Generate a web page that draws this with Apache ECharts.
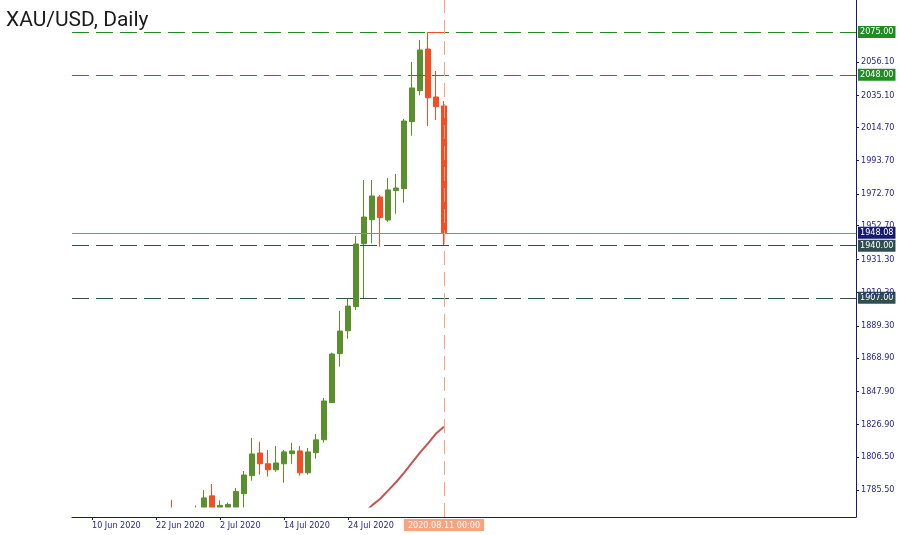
<!DOCTYPE html>
<html><head><meta charset="utf-8">
<script src="https://cdn.jsdelivr.net/npm/echarts@6/dist/echarts.min.js"></script>
<style>html,body{margin:0;padding:0;background:#fff}#c{width:900px;height:535px}</style>
</head><body><div id="c"></div>
<script>
// ---- data (XAU/USD daily) ----
const dates = ['2020.06.08','2020.06.09','2020.06.10','2020.06.11','2020.06.12','2020.06.15','2020.06.16','2020.06.17','2020.06.18','2020.06.19','2020.06.22','2020.06.23','2020.06.24','2020.06.25','2020.06.26','2020.06.29','2020.06.30',
 '2020.07.01','2020.07.02','2020.07.03','2020.07.06','2020.07.07','2020.07.08','2020.07.09','2020.07.10','2020.07.13','2020.07.14','2020.07.15','2020.07.16','2020.07.17','2020.07.20','2020.07.21','2020.07.22','2020.07.23','2020.07.24','2020.07.27','2020.07.28','2020.07.29','2020.07.30','2020.07.31',
 '2020.08.03','2020.08.04','2020.08.05','2020.08.06','2020.08.07','2020.08.10','2020.08.11'];
const opens = [1685,1697,1715,1737,1728,1730,1725,1726,1727,1722,1743,1754,1768,1761,1764,1771,1772,
 1781.8,1770,1774.5,1774.5,1783.2,1794.6,1808.9,1802.1,1798.3,1802.1,1808.5,1810.2,1796.4,1809.1,1817.3,1840.7,1871.7,1886.2,1901.4,1941.2,1956.4,1970.8,1956.2,
 1974.8,1976.0,2018.4,2038.0,2064.3,2034.0,2028.3];
const highs = [1700,1723,1739,1744,1744,1732,1735,1736,1736,1745,1755,1768,1779.3,1768,1772,1775.6,1785.5,
 1789.3,1779,1777.5,1786.8,1797.5,1818.4,1816.0,1810.8,1813.3,1810.8,1815.3,1813.3,1812.1,1820.9,1843.7,1872.3,1898.7,1906.9,1946.1,1981.5,1981.5,1972.0,1982.8,
 1985.3,2020.1,2056.1,2070.0,2075.0,2050.4,2031.4];
const lows = [1670,1692,1705,1717,1721,1704,1712,1718,1717,1720,1737,1750,1757,1753,1755,1760,1766,
 1757,1757,1771,1763,1771,1791.4,1795.2,1794.0,1797.1,1790.1,1802.1,1794.6,1795.2,1805.3,1815.5,1840.7,1863.5,1881.2,1899.3,1906.7,1941.5,1939.3,1955.1,
 1960.2,1967.1,2009.5,2035.0,2015.6,2019.4,1940.0];
const closes = [1697,1715,1737,1728,1730,1725,1726,1727,1722,1743,1754,1768,1761,1764,1771,1772,1780.5,
 1770,1775.8,1776.4,1784.5,1795.0,1808.3,1802.1,1798.3,1802.6,1809.6,1810.2,1796.4,1809.6,1817.2,1841.8,1871.5,1886.0,1901.8,1941.0,1958.1,1971.4,1957.7,1975.2,
 1976.4,2018.8,2039.7,2063.7,2033.5,2027.9,1948.08];
const maValues = [null,null,null,null,null,null,null,null,null,null,null,null,null,null,null,null,null,
 null,null,null,null,null,null,null,null,null,null,null,null,null,null,null,null,null,null,null,1771.0,1775.8,1779.8,1785.1,
 1790.4,1796.4,1802.8,1809.1,1815.0,1821.2,1825.5];
const yTicks = [2056.10,2035.10,2014.70,1993.70,1972.70,1952.70,1931.30,1910.30,1889.30,1868.90,1847.90,1826.90,1806.50,1785.50];
const xTickDates = ['2020.06.10','2020.06.22','2020.07.02','2020.07.14','2020.07.24'];
const xTickLabels = ['10 Jun 2020','22 Jun 2020','2 Jul 2020','14 Jul 2020','24 Jul 2020'];
const greenLevels = [2075.00, 2048.00];
const slateLevels = [1940.00, 1907.00];
const bidPrice = 1948.08;
const cursorDate = '2020.08.11';
const cursorLabel = '2020.08.11 00:00';
const highMarkFrom = '2020.08.07';
const highMarkPrice = 2075.00;
const titleText = 'XAU/USD, Daily';

// ---- layout ----
const W = 900, H = 535;
const GL = 72, GR = 44, GT = 0, GB_AXIS = 18, GB_DATA = 28;
const futureSlots = 51;
const cats = dates.concat(Array.from({length: futureSlots}, (_, i) => 'f' + i));
const candles = dates.map((d, i) => [opens[i], closes[i], lows[i], highs[i]]);

const AX = '#1b1b6b', TXT = '#26268a', FONT = 'DejaVu Sans Condensed', FS = 9;
const boxLabel = (txt, bg) => ({show:true, position:'end', distance:2, formatter: txt, color:'#fff',
  backgroundColor: bg, padding:[2,2,1,2], fontFamily: FONT, fontSize: FS});

const levelLines = [
  ...greenLevels.map(v => ({yAxis: v, lineStyle:{color:'#228b22', type:[17,7], width:1}, label: boxLabel(v.toFixed(2), '#228b22')})),
  {yAxis: bidPrice, lineStyle:{color:'#7f8c9c', type:'solid', width:1}, label: boxLabel(bidPrice.toFixed(2), '#191970')},
  ...slateLevels.map(v => ({yAxis: v, lineStyle:{color:'#2f4f4f', type:[17,7], width:1}, label: boxLabel(v.toFixed(2), '#2f4f4f')}))
];
const cursorLine = [
  {xAxis: cursorDate, lineStyle:{color:'#ffa07a', type:[14,7], width:1},
   label:{show:true, position:'start', distance:2, formatter: cursorLabel, color:'#fff', backgroundColor:'#f9a27f',
     padding:[2,4,1,4], fontFamily: FONT, fontSize: FS}}
];

const chart = echarts.init(document.getElementById('c'), null, {renderer:'canvas'});
chart.setOption({
  animation: false,
  backgroundColor: '#fff',
  title: {text: titleText, left: 1, top: 5, textStyle:{fontFamily:'Roboto', fontSize: 21, fontWeight:'normal', color:'#1c1c1c'}},
  grid: [{left:GL, right:GR, top:GT, bottom:GB_AXIS}, {left:GL, right:GR, top:GT, bottom:GB_DATA}],
  graphic: [{type:'rect', silent:true, z:5,
    shape:{x:GL, y:H - GB_DATA + 0.5, width:W - GL - GR - 0.5, height:GB_DATA}, style:{fill:'#fff'}}],
  xAxis: [
    {type:'category', gridIndex:0, data: cats, boundaryGap:true, z:10,
     axisLine:{show:true, lineStyle:{color:AX, width:1}},
     axisTick:{show:true, alignWithLabel:true, length:3, interval:(i, v) => xTickDates.includes(v), lineStyle:{color:AX}},
     axisLabel:{interval:(i, v) => xTickDates.includes(v), formatter: v => xTickLabels[xTickDates.indexOf(v)] || '',
       align:'left', margin:4, color:TXT, fontFamily:FONT, fontSize:FS},
     splitLine:{show:false}},
    {type:'category', gridIndex:1, data: cats, boundaryGap:true, show:false}
  ],
  yAxis: [
    {type:'value', gridIndex:0, position:'right', min:1768.44, max:2095.3, scale:true, z:10,
     splitLine:{show:false},
     axisLine:{show:true, lineStyle:{color:AX, width:1}},
     axisTick:{show:true, length:3, customValues: yTicks, lineStyle:{color:AX}},
     axisLabel:{customValues: yTicks, formatter: v => v.toFixed(2), margin:5, color:TXT, fontFamily:FONT, fontSize:FS}},
    {type:'value', gridIndex:1, min:1774.76, max:2095.3, scale:true, show:false}
  ],
  series: [
    {type:'line', xAxisIndex:0, yAxisIndex:0, data:[], z:1, silent:true,
     markLine:{symbol:['none','none'], silent:true, animation:false, data: levelLines}},
    {type:'candlestick', xAxisIndex:1, yAxisIndex:1, data: candles, barWidth:5, z:3,
     itemStyle:{color:'#5b8e2d', color0:'#f34d24', borderColor:'#5b8e2d', borderColor0:'#f34d24', borderWidth:1},
     markLine:{symbol:['none','none'], silent:true, label:{show:false},
       lineStyle:{color:'#f34d24', type:'solid', width:1},
       data:[[{coord:[highMarkFrom, highMarkPrice]}, {coord:[cursorDate, highMarkPrice]}]]}},
    {type:'line', xAxisIndex:1, yAxisIndex:1, data: maValues, z:4, symbol:'none', smooth:false,
     lineStyle:{color:'#c9514f', width:2}, itemStyle:{color:'#c9514f'}},
    {type:'line', xAxisIndex:0, yAxisIndex:0, data:[], z:6, silent:true,
     markLine:{symbol:['none','none'], silent:true, animation:false, data: cursorLine}}
  ]
});
</script></body></html>
